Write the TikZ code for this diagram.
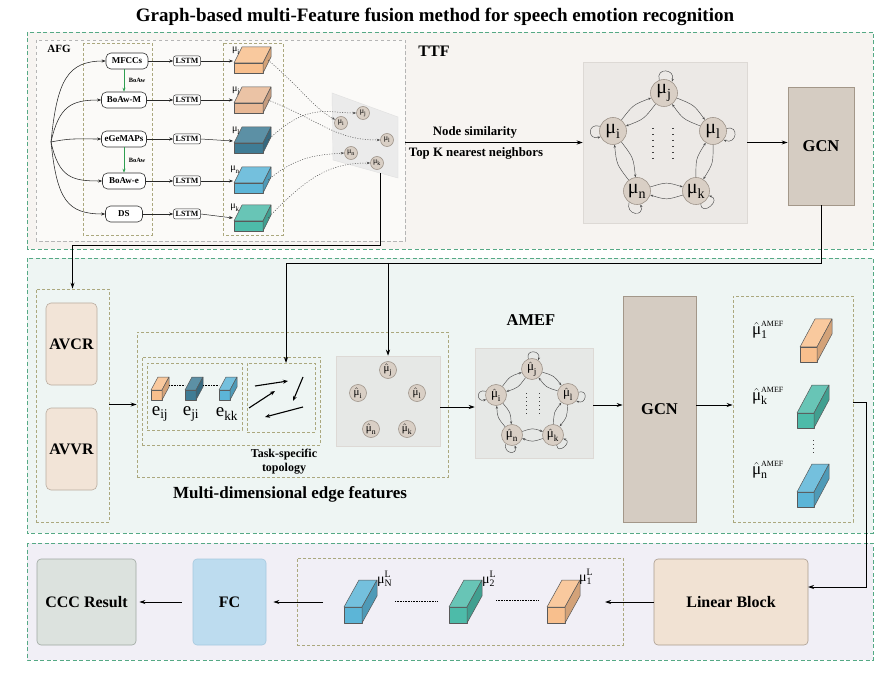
\documentclass[tikz,border=0pt]{standalone}
\usepackage{fontspec}
\setmainfont{Liberation Serif}
\usetikzlibrary{arrows.meta,calc}

\definecolor{rgreen}{HTML}{55A985}
\definecolor{olivec}{HTML}{ABA87E}
\definecolor{afggray}{HTML}{B5B5B5}
\definecolor{bgone}{HTML}{F7F4F1}
\definecolor{bgafg}{HTML}{FBFAF8}
\definecolor{bgtwo}{HTML}{EEF5F3}
\definecolor{bgthree}{HTML}{F1EFF6}
\definecolor{panelc}{HTML}{ECE9E6}
\definecolor{panelb}{HTML}{DDD9D5}
\definecolor{paneltwo}{HTML}{E6E8E6}
\definecolor{nfill}{HTML}{D9CFC5}
\definecolor{nborder}{HTML}{9F958B}
\definecolor{gcnfill}{HTML}{D5CCC2}
\definecolor{gcnborder}{HTML}{A39789}
\definecolor{peach}{HTML}{F2E4D7}
\definecolor{peachb}{HTML}{B9AC9F}
\definecolor{cccfill}{HTML}{DCE2DE}
\definecolor{cccb}{HTML}{9EA8A1}
\definecolor{fcfill}{HTML}{BDDCEF}
\definecolor{fcb}{HTML}{A6C9DF}
\definecolor{linfill}{HTML}{F1E2D3}
\definecolor{linb}{HTML}{AA9C8E}
\definecolor{corange}{HTML}{F8BF8D}
\definecolor{ctan}{HTML}{E8B895}
\definecolor{cdark}{HTML}{3F7C95}
\definecolor{cblue}{HTML}{5CB5D7}
\definecolor{cteal}{HTML}{4DBBA9}
\definecolor{bgreen}{HTML}{2E9E50}

\newcommand\mmu{\mbox{μ}}
\newcommand\myprism[7]{%
  \filldraw[prismline, fill=#7] (#1,#2) rectangle ({#1+#3},{#2+#4});
  \filldraw[prismline, fill=#7!85!white] (#1,#2) -- ({#1+#5},{#2+#6}) -- ({#1+#3+#5},{#2+#6}) -- ({#1+#3},#2) -- cycle;
  \filldraw[prismline, fill=#7!85!black] ({#1+#3},#2) -- ({#1+#3+#5},{#2+#6}) -- ({#1+#3+#5},{#2+#4+#6}) -- ({#1+#3},{#2+#4}) -- cycle;
}
\newcommand\pentaedges[6]{%
  \foreach \a/\b in {#1/#2,#2/#3,#3/#4,#4/#5,#5/#1}{%
    \draw[gedge] (\a) .. controls ($(\a)!0.5!(\b)!#6!90:(\b)$) .. (\b);
    \draw[gedge] (\b) .. controls ($(\b)!0.5!(\a)!#6!90:(\a)$) .. (\a);
  }}
\newcommand\myloops[6]{% j i l k n size
  \draw[gedge] (#1.110) .. controls +({-0.3*#6},{-#6}) and +({0.3*#6},{-#6}) .. (#1.55);
  \draw[gedge] (#2.160) .. controls +({-#6},{-0.3*#6}) and +({-#6},{0.3*#6}) .. (#2.205);
  \draw[gedge] (#3.10) .. controls +({#6},{-0.3*#6}) and +({#6},{0.4*#6}) .. (#3.-40);
  \draw[gedge] (#4.-70) .. controls +({0.1*#6},{#6}) and +({#6},{0.3*#6}) .. (#4.-20);
  \draw[gedge] (#5.-125) .. controls +({-0.3*#6},{#6}) and +({0.3*#6},{#6}) .. (#5.-75);
}

\begin{document}
\begin{tikzpicture}[x=1pt,y=-1pt,
  arr/.style={-{Stealth[length=6pt,width=4pt]}, line width=0.8pt, draw=black},
  sarr/.style={-{Stealth[length=4pt,width=3pt]}, line width=0.5pt, draw=black!85},
  carr/.style={-{Stealth[length=4pt,width=3pt]}, line width=0.55pt, draw=black!85},
  garr/.style={-{Stealth[length=4pt,width=3pt]}, line width=0.6pt, draw=bgreen},
  gedge/.style={-{Stealth[length=3pt,width=2.2pt]}, line width=0.45pt, draw=black!70},
  dotarr/.style={-{Stealth[length=3.5pt,width=2.5pt]}, line width=0.5pt, draw=black!70, dash pattern=on 1pt off 1.5pt},
  dotline/.style={line width=0.6pt, draw=black, dash pattern=on 0.8pt off 0.8pt},
  region/.style={draw=rgreen, dash pattern=on 4pt off 2.5pt, line width=0.8pt},
  olive/.style={draw=olivec, dash pattern=on 3pt off 2pt, line width=0.6pt},
  olivebox/.style={draw=olivec, dash pattern=on 3pt off 2pt, line width=0.6pt, inner sep=0pt},
  afgbox/.style={draw=afggray, dash pattern=on 3.5pt off 2.5pt, line width=0.6pt, fill=bgafg},
  feat/.style={draw=black!80, rounded corners=5pt, fill=white, line width=0.6pt, font=\bfseries\fontsize{9}{9}\selectfont, minimum height=16pt, inner sep=1.5pt},
  lstm/.style={draw=black!80, rounded corners=2pt, fill=white, line width=0.5pt, font=\bfseries\fontsize{8}{8}\selectfont, minimum width=27pt, minimum height=10pt, inner sep=0.5pt},
  gnode/.style={circle, fill=nfill, draw=nborder, line width=0.6pt, inner sep=0pt},
  panelnode/.style={fill=panelc, draw=panelb, line width=0.5pt, inner sep=0pt},
  paneltwonode/.style={fill=paneltwo, draw=panelb, line width=0.5pt, inner sep=0pt},
  gcn/.style={fill=gcnfill, draw=gcnborder, line width=0.7pt, font=\bfseries\fontsize{16.5}{16.5}\selectfont, inner sep=0pt},
  peachbox/.style={fill=peach, draw=peachb, line width=0.6pt, rounded corners=5pt, font=\bfseries\fontsize{16}{16}\selectfont, inner sep=0pt},
  bigbox/.style={line width=0.6pt, rounded corners=4pt, font=\bfseries\fontsize{16}{16}\selectfont, inner sep=0pt},
  prismline/.style={draw=black!65, line width=0.5pt, line join=round},
  dotcol/.style={line width=1.5pt, draw=black!75, dash pattern=on 1.5pt off 4.5pt},
  lab/.style={font=\bfseries\fontsize{16.5}{16.5}\selectfont, inner sep=0pt}
]
\useasboundingbox (0,0) rectangle (889,676);
\fill[white] (0,0) rectangle (889,676);

% title
\node[font=\bfseries\fontsize{19}{19}\selectfont] (title) at (435,17) {Graph-based multi-Feature fusion method for speech emotion recognition};

% regions
\draw[region, fill=bgone] (27,32) rectangle (873,249);
\draw[region, fill=bgtwo] (27,258) rectangle (873,533);
\draw[region, fill=bgthree] (27,543) rectangle (873,660);

% ================= TTF region =================
\draw[afgbox] (36,40) rectangle (405,241);
\node[font=\bfseries\fontsize{11}{11}\selectfont] (afglab) at (59,49) {AFG};
\draw[olive] (83,43) rectangle (152,235);
\draw[olive] (223,43) rectangle (283,235);

\node[feat, minimum width=42] (mfcc) at (127,61) {MFCCs};
\node[feat, minimum width=45] (boawm) at (124,100) {BoAw-M};
\node[feat, minimum width=45] (egemaps) at (124,139) {eGeMAPs};
\node[feat, minimum width=43] (boawe) at (124,181) {BoAw-e};
\node[feat, minimum width=37] (ds) at (124,214) {DS};

\draw[garr] (mfcc.south -| boawm.north) -- (boawm.north);
\draw[garr] (egemaps.south) -- (boawe.north);
\node[font=\bfseries\fontsize{6.5}{6.5}\selectfont] (bl1) at (137,80) {BoAw};
\node[font=\bfseries\fontsize{6.5}{6.5}\selectfont] (bl2) at (137,160) {BoAw};

\coordinate (src) at (51,142);
\draw[carr] (src) .. controls +(6,-62) and +(-38,0) .. (mfcc.west);
\draw[carr] (src) .. controls +(8,-36) and +(-30,0) .. (boawm.west);
\draw[carr] (src) .. controls +(20,-4) and +(-25,0) .. (egemaps.west);
\draw[carr] (src) .. controls +(8,36) and +(-30,0) .. (boawe.west);
\draw[carr] (src) .. controls +(6,58) and +(-38,0) .. (ds.west);

\node[lstm] (lstm1) at (187,61) {LSTM};
\node[lstm] (lstm2) at (187,100) {LSTM};
\node[lstm] (lstm3) at (187,139) {LSTM};
\node[lstm] (lstm4) at (187,181) {LSTM};
\node[lstm] (lstm5) at (187,214) {LSTM};
\foreach \f/\l in {mfcc/lstm1,boawm/lstm2,egemaps/lstm3,boawe/lstm4,ds/lstm5}{
  \draw[sarr] (\f.east) -- (\l.west);
}
\coordinate (ci1) at (233,61);
\coordinate (ci2) at (233,100);
\coordinate (ci3) at (233,141);
\coordinate (ci4) at (233,181);
\coordinate (ci5) at (233,218);
\foreach \l/\c in {lstm1/ci1,lstm2/ci2,lstm3/ci3,lstm4/ci4,lstm5/ci5}{
  \draw[sarr] (\l.east) -- (\c);
}

\myprism{234}{63}{29}{10}{8}{-16}{corange}
\myprism{234}{103}{29}{10}{8}{-16}{ctan}
\myprism{234}{143}{29}{10}{8}{-16}{cdark}
\myprism{234}{183}{29}{10}{8}{-16}{cblue}
\myprism{234}{221}{29}{10}{8}{-16}{cteal}
\node[font=\fontsize{10}{10}\selectfont, inner sep=0pt] (m1) at (236,51) {\(\mmu_{\mathrm{i}}\)};
\node[font=\fontsize{10}{10}\selectfont, inner sep=0pt] (m2) at (236,91) {\(\mmu_{\mathrm{j}}\)};
\node[font=\fontsize{10}{10}\selectfont, inner sep=0pt] (m3) at (236,131) {\(\mmu_{\mathrm{l}}\)};
\node[font=\fontsize{10}{10}\selectfont, inner sep=0pt] (m4) at (235,170) {\(\mmu_{\mathrm{n}}\)};
\node[font=\fontsize{10}{10}\selectfont, inner sep=0pt] (m5) at (235,208) {\(\mmu_{\mathrm{k}}\)};

% plane
\filldraw[fill=black!8, draw=black!12, line width=0.4pt] (332,93) -- (398,117) -- (398,178) -- (333,160) -- cycle;
\begin{scope}[every node/.style={gnode, minimum size=13pt, font=\fontsize{8}{8}\selectfont}]
\node (pi) at (341,123) {\(\mmu_{\mathrm{i}}\)};
\node (pj) at (363,113) {\(\mmu_{\mathrm{j}}\)};
\node (pl) at (387,140) {\(\mmu_{\mathrm{l}}\)};
\node (pn) at (351,153) {\(\mmu_{\mathrm{n}}\)};
\node (pk) at (377,163) {\(\mmu_{\mathrm{k}}\)};
\end{scope}
\coordinate (cs1) at (268,60);
\coordinate (cs2) at (268,100);
\coordinate (cs3) at (268,140);
\coordinate (cs4) at (268,180);
\coordinate (cs5) at (268,218);
\draw[dotarr] (cs1) .. controls +(35,30) and +(-22,-12) .. (pi.150);
\draw[dotarr] (cs2) .. controls +(55,22) and +(-45,0) .. (pl.west);
\draw[dotarr] (cs3) .. controls +(40,-38) and +(-30,0) .. (pj.west);
\draw[dotarr] (cs4) .. controls +(30,-25) and +(-25,2) .. (pn.west);
\draw[dotarr] (cs5) .. controls +(40,-42) and +(-40,0) .. (pk.west);

\node[font=\bfseries\fontsize{16}{16}\selectfont] (ttf) at (434,51) {TTF};

\coordinate (afgR) at (405,142.5);
\node[panelnode, minimum width=164pt, minimum height=161pt] (tpanel) at (665,142.5) {};
\draw[arr] (afgR) -- (tpanel.west);
\node[font=\bfseries\fontsize{12.8}{12.8}\selectfont] (ns) at (475,132) {Node similarity};
\node[font=\bfseries\fontsize{12.8}{12.8}\selectfont] (tk) at (476,153) {Top K nearest neighbors};

\begin{scope}[every node/.style={gnode, minimum size=27pt, font=\fontsize{20}{20}\selectfont}]
\node (gj) at (664,93) {\(\mmu_{\mathrm{j}}\)};
\node (gi) at (613,131) {\(\mmu_{\mathrm{i}}\)};
\node (gl) at (713,131) {\(\mmu_{\mathrm{l}}\)};
\node (gn) at (637,191) {\(\mmu_{\mathrm{n}}\)};
\node (gk) at (696,191) {\(\mmu_{\mathrm{k}}\)};
\end{scope}
\pentaedges{gi}{gj}{gl}{gk}{gn}{9pt}
\myloops{gj}{gi}{gl}{gk}{gn}{13}
\draw[dotcol] (653,128) -- (653,162);
\draw[dotcol] (673,128) -- (673,162);

\node[gcn, minimum width=66pt, minimum height=118pt] (gcn1) at (821,146) {GCN};
\draw[arr] (tpanel.east) -- (gcn1.west |- tpanel.east);

% ================= AMEF region =================
\node[olivebox, minimum width=73pt, minimum height=233pt] (lbox) at (72.5,405.5) {};
\node[peachbox, minimum width=51pt, minimum height=82pt] (avcr) at (71.5,344) {AVCR};
\node[peachbox, minimum width=51pt, minimum height=82pt] (avvr) at (71.5,449) {AVVR};

\coordinate (planeb) at (380,173);
\draw[arr] (planeb) -- (380,245) -| (lbox.north);

\node[olivebox, minimum width=311pt, minimum height=145pt] (outerbox) at (292.5,404.5) {};
\node[olivebox, minimum width=178pt, minimum height=88pt] (midbox) at (231,401) {};
\node[olivebox, minimum width=95pt, minimum height=67pt] (ebox) at (194.5,396.5) {};
\node[olivebox, minimum width=68pt, minimum height=69pt] (topo) at (281,397.5) {};
\draw[arr] (lbox.east |- outerbox.west) -- (outerbox.west);

\myprism{151}{390}{11}{10}{7}{-13}{corange}
\myprism{185}{390}{11}{10}{7}{-13}{cdark}
\myprism{219}{390}{11}{10}{7}{-13}{cblue}
\draw[dotline] (169,385) -- (185,385);
\draw[dotline] (203,385) -- (219,385);
\node[font=\fontsize{19}{19}\selectfont, inner sep=0pt] (eij) at (160,414) {\(\mbox{e}_{\mathrm{ij}}\)};
\node[font=\fontsize{19}{19}\selectfont, inner sep=0pt] (eji) at (191,414) {\(\mbox{e}_{\mathrm{ji}}\)};
\node[font=\fontsize{19}{19}\selectfont, inner sep=0pt] (ekk) at (227,414) {\(\mbox{e}_{\mathrm{kk}}\)};

\begin{scope}[-{Stealth[length=5pt,width=4pt]}, line width=1.1pt]
\draw (255,386) -- (288,381);
\draw (249,408) -- (275,391);
\draw (303,377) -- (293,401);
\draw (303,407) -- (265,417);
\end{scope}
\node[font=\bfseries\fontsize{12}{14}\selectfont, align=center] (tsl) at (284,462) {Task-specific\\topology};
\node[font=\bfseries\fontsize{17}{17}\selectfont] (mdef) at (290,494) {Multi-dimensional edge features};

\coordinate (hl) at (0,263);
\coordinate (topoin) at (286,363);
\draw[arr] (gcn1.south) -- (gcn1.south |- hl) -| (topoin);

\node[paneltwonode, minimum width=104pt, minimum height=90pt] (npanel) at (388,401) {};
\draw[arr] (npanel.north |- hl) -- (npanel.north);
\begin{scope}[every node/.style={gnode, minimum size=17pt, font=\fontsize{11}{11}\selectfont}]
\node (hj) at (388,370) {\(\hat{\mmu}_{\mathrm{j}}\)};
\node (hi) at (358,393) {\(\hat{\mmu}_{\mathrm{i}}\)};
\node (hl2) at (417,393) {\(\hat{\mmu}_{\mathrm{l}}\)};
\node (hn) at (371,429) {\(\hat{\mmu}_{\mathrm{n}}\)};
\node (hk) at (407,429) {\(\hat{\mmu}_{\mathrm{k}}\)};
\end{scope}

\node[lab] (amef) at (531,320) {AMEF};
\node[paneltwonode, minimum width=118pt, minimum height=110pt] (gpanel) at (534,403) {};
\draw[arr] (npanel.east |- 0,407) -- (gpanel.west |- 0,407);
\begin{scope}[every node/.style={gnode, minimum size=21pt, font=\fontsize{13}{13}\selectfont}]
\node (aj) at (532,369) {\(\hat{\mmu}_{\mathrm{j}}\)};
\node (ai) at (496,395) {\(\hat{\mmu}_{\mathrm{i}}\)};
\node (al) at (568,394) {\(\hat{\mmu}_{\mathrm{l}}\)};
\node (an) at (512,435) {\(\hat{\mmu}_{\mathrm{n}}\)};
\node (ak) at (553,435) {\(\hat{\mmu}_{\mathrm{k}}\)};
\end{scope}
\pentaedges{ai}{aj}{al}{ak}{an}{7pt}
\myloops{aj}{ai}{al}{ak}{an}{10}
\draw[line width=1pt, draw=black!75, dash pattern=on 1pt off 3pt] (526,393) -- (526,416);
\draw[line width=1pt, draw=black!75, dash pattern=on 1pt off 3pt] (539,393) -- (539,416);

\node[gcn, minimum width=73pt, minimum height=226pt] (gcn2) at (659.5,409) {GCN};
\draw[arr] (gpanel.east |- 0,405) -- (gcn2.west |- 0,405);

\node[olivebox, minimum width=120pt, minimum height=226pt] (abox) at (793,409) {};
\draw[arr] (gcn2.east |- 0,405) -- (abox.west |- 0,405);
\myprism{800}{347}{17}{15}{15}{-28}{corange}
\myprism{797}{413}{17}{15}{15}{-28}{cteal}
\myprism{797}{492}{17}{15}{15}{-28}{cblue}
\node[font=\fontsize{17}{17}\selectfont, inner sep=0pt] (a1) at (768,330) {\(\hat{\mmu}^{\mbox{\fontsize{8}{8}\selectfont AMEF}}_{\mathrm{1}}\)};
\node[font=\fontsize{17}{17}\selectfont, inner sep=0pt] (a2) at (768,396) {\(\hat{\mmu}^{\mbox{\fontsize{8}{8}\selectfont AMEF}}_{\mathrm{k}}\)};
\node[font=\fontsize{17}{17}\selectfont, inner sep=0pt] (a3) at (768,470) {\(\hat{\mmu}^{\mbox{\fontsize{8}{8}\selectfont AMEF}}_{\mathrm{n}}\)};
\draw[line width=1pt, draw=black!75, dash pattern=on 1pt off 3pt] (813,440) -- (813,454);

% ================= bottom region =================
\node[bigbox, fill=cccfill, draw=cccb, minimum width=99pt, minimum height=86pt] (ccc) at (86.5,602) {CCC Result};
\node[bigbox, fill=fcfill, draw=fcb, minimum width=73pt, minimum height=86pt] (fc) at (229.5,602) {FC};
\node[olivebox, minimum width=326pt, minimum height=87pt] (ldash) at (460,601.5) {};
\node[bigbox, fill=linfill, draw=linb, minimum width=154pt, minimum height=86pt] (lin) at (731,602) {Linear Block};

\coordinate (aout) at (853,402);
\coordinate (linin) at (808,587);
\draw[arr] (aout) -- (866,402) -- (866,587) -- (linin);

\coordinate (lbt) at (605,602);
\draw[arr] (lin.west) -- (lbt);
\coordinate (lstart) at (323,602);
\draw[arr, shorten >=7pt] (lstart) -- (fc.east);
\draw[arr, shorten <=11pt, shorten >=3pt] (fc.west) -- (ccc.east);

\myprism{344}{607}{18}{16}{15}{-27}{cblue}
\myprism{449}{607}{18}{16}{15}{-27}{cteal}
\myprism{547}{607}{18}{16}{15}{-27}{corange}
\draw[dotline] (395,601) -- (437,601);
\draw[dotline] (496,600) -- (538,600);
\node[anchor=west, font=\fontsize{14}{14}\selectfont, inner sep=0pt] (lN) at (377,579) {\(\mmu^{\mathrm{L}}_{\mathrm{N}}\)};
\node[anchor=west, font=\fontsize{14}{14}\selectfont, inner sep=0pt] (l2) at (482,579) {\(\mmu^{\mathrm{L}}_{\mathrm{2}}\)};
\node[anchor=west, font=\fontsize{14}{14}\selectfont, inner sep=0pt] (l1) at (579,577) {\(\mmu^{\mathrm{L}}_{\mathrm{1}}\)};
\end{tikzpicture}
\end{document}
